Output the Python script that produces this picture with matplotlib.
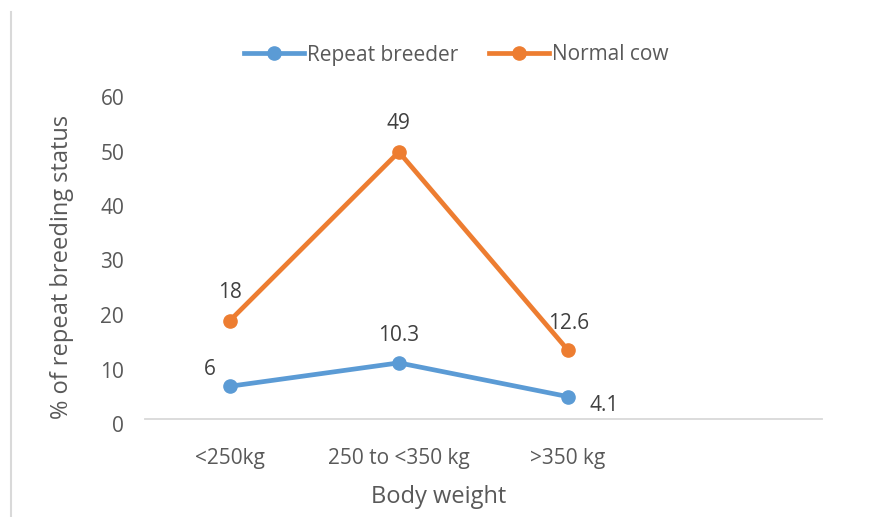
import matplotlib
matplotlib.use("Agg")
import matplotlib.pyplot as plt
import matplotlib.transforms as mtransforms
from matplotlib.lines import Line2D

categories = ["<250kg", "250 to <350 kg", ">350 kg"]
repeat_breeder = [6, 10.3, 4.1]
normal_cow = [18, 49, 12.6]
y_ticks = [0, 10, 20, 30, 40, 50, 60]

BLUE = "#5B9BD5"
ORANGE = "#ED7D31"
TEXT = "#595959"
GRID = "#D9D9D9"

plt.rcParams["font.family"] = ["Open Sans", "DejaVu Sans"]

W, H = 880, 517
fig = plt.figure(figsize=(W / 100, H / 100), dpi=100)

def fx(px):
    return px / W

def fy(py):
    return 1 - py / H

ax = fig.add_axes([fx(145), fy(419), fx(822) - fx(145), fy(92) - fy(419)])

x = list(range(len(categories)))
ax.plot(x, repeat_breeder, color=BLUE, lw=3.4, marker="o", ms=9.5,
        solid_capstyle="round", solid_joinstyle="round", zorder=3)
ax.plot(x, normal_cow, color=ORANGE, lw=3.4, marker="o", ms=9.5,
        solid_capstyle="round", solid_joinstyle="round", zorder=3)

ax.set_xlim(-0.5, 3.5)
ax.set_ylim(0, 60)
ax.set_yticks(y_ticks)
ax.set_xticks(x)
ax.set_xticklabels(categories)

for s in ["top", "right", "left"]:
    ax.spines[s].set_visible(False)
ax.spines["bottom"].set_color(GRID)
ax.spines["bottom"].set_linewidth(1.3)
ax.tick_params(axis="y", length=0, colors=TEXT, labelsize=15, pad=15)
ax.tick_params(axis="x", length=0, colors=TEXT, labelsize=15, pad=21)

# Nudge the value labels slightly downward
offset = mtransforms.ScaledTranslation(0, -5 / 100, fig.dpi_scale_trans)
for lab in ax.get_yticklabels():
    lab.set_transform(lab.get_transform() + offset)

# Data labels
def annotate(xv, yv, dx, dy):
    ax.annotate(f"{yv:g}", (xv, yv), xytext=(dx, dy), textcoords="offset pixels",
                ha="center", va="center", color="#404040", fontsize=15)

annotate(0, normal_cow[0], 0, 28)
annotate(1, normal_cow[1], 0, 28)
annotate(2, normal_cow[2], 1, 27)
annotate(0, repeat_breeder[0], -20, 17)
annotate(1, repeat_breeder[1], 0, 27)
annotate(2, repeat_breeder[2], 36, -9)

# Axis titles
fig.text(fx(62), fy(267), "% of repeat breeding status", rotation=90,
         ha="center", va="center", color=TEXT, fontsize=17)
fig.text(fx(439), fy(497), "Body weight", ha="center", va="center",
         color=TEXT, fontsize=17)

# Legend
handles = [
    Line2D([], [], color=BLUE, lw=3.4, marker="o", ms=9.5),
    Line2D([], [], color=ORANGE, lw=3.4, marker="o", ms=9.5),
]
fig.legend(handles, ["Repeat breeder", "Normal cow"], loc="center",
           bbox_to_anchor=(fx(456), fy(55)), ncol=2, frameon=False,
           fontsize=15, labelcolor=TEXT, handlelength=2.9,
           handletextpad=0.1, columnspacing=1.5)

# Chart-area border on the left
fig.add_artist(Line2D([fx(11), fx(11)], [fy(12), fy(517)], color=GRID, lw=1.5))

fig.savefig("out.png", dpi=100)
